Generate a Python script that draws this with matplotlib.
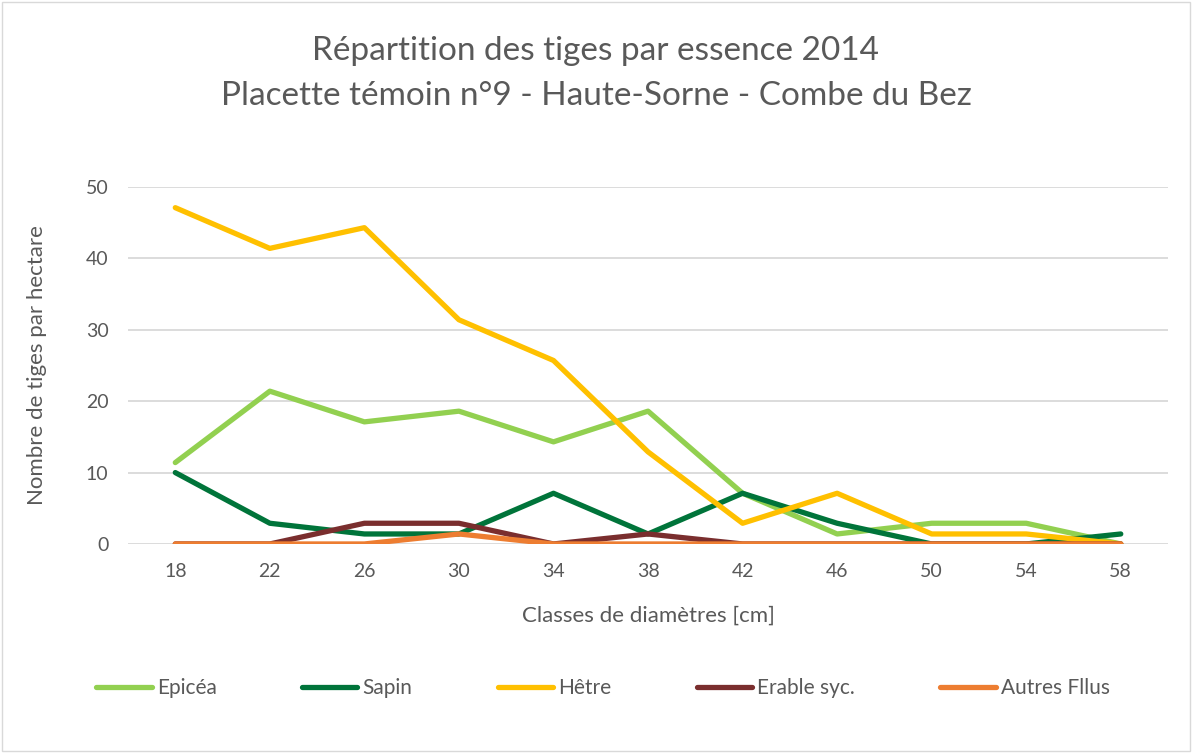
import matplotlib.pyplot as plt
from matplotlib.patches import Rectangle

# classes de diamètres et nombre de tiges / ha
CLASSES = ["18", "22", "26", "30", "34", "38", "42", "46", "50", "54", "58"]
EPICEA = [11.4, 21.4, 17.1, 18.6, 14.3, 18.6, 7.1, 1.4, 2.9, 2.9, 0.0]
SAPIN = [10.0, 2.9, 1.4, 1.4, 7.1, 1.4, 7.1, 2.9, 0.0, 0.0, 1.4]
HETRE = [47.1, 41.4, 44.3, 31.4, 25.7, 12.9, 2.9, 7.1, 1.4, 1.4, 0.0]
ERABLE = [0.0, 0.0, 2.9, 2.9, 0.0, 1.4, 0.0, 0.0, 0.0, 0.0, 0.0]
AUTRES = [0.0, 0.0, 0.0, 1.4, 0.0, 0.0, 0.0, 0.0, 0.0, 0.0, 0.0]
NOMS = ["Epicéa", "Sapin", "Hêtre", "Erable syc.", "Autres Fllus"]
COULEURS = ["#92D050", "#00743A", "#FFC000", "#7A2E2E", "#ED7D31"]

plt.rcParams['font.family'] = ['Lato', 'DejaVu Sans']
GRIS = "#595959"

fig = plt.figure(figsize=(11.92, 7.53), dpi=100)
fig.patches.append(Rectangle((0.002, 0.002), 0.996, 0.996, transform=fig.transFigure,
                             fill=False, edgecolor="#D9D9D9", linewidth=1))
ax = fig.add_axes([0.1074, 0.2776, 0.8725, 0.4741])

x = range(len(CLASSES))
for serie, nom, c in zip([EPICEA, SAPIN, HETRE, ERABLE, AUTRES], NOMS, COULEURS):
    ax.plot(x, serie, color=c, linewidth=3.8, label=nom, solid_capstyle='round')

ax.set_xlim(-0.5, len(CLASSES) - 0.5)
ax.set_ylim(0, 50)
ax.set_yticks([0, 10, 20, 30, 40, 50])
ax.set_xticks(list(x))
ax.set_xticklabels(CLASSES)
ax.grid(axis='y', color="#D9D9D9", linewidth=1.3)
ax.set_axisbelow(True)
for s in ax.spines.values():
    s.set_visible(False)
ax.tick_params(length=0, labelsize=14, colors=GRIS)
ax.tick_params(axis='x', pad=14)
ax.tick_params(axis='y', pad=14)

ax.set_xlabel("Classes de diamètres [cm]", fontsize=16, color=GRIS, labelpad=18)
ax.set_ylabel("Nombre de tiges par hectare", fontsize=16, color=GRIS, labelpad=28)

fig.text(0.5, 0.952, "Répartition des tiges par essence 2014\nPlacette témoin n°9 - Haute-Sorne - Combe du Bez",
         ha='center', va='top', fontsize=24, color=GRIS, linespacing=1.62)

fig.legend(loc='center', bbox_to_anchor=(0.506, 0.086), ncol=5, frameon=False,
           fontsize=15, labelcolor=GRIS, handlelength=2.65, handletextpad=0.25,
           columnspacing=4.1)

plt.savefig("out.png", dpi=100)
